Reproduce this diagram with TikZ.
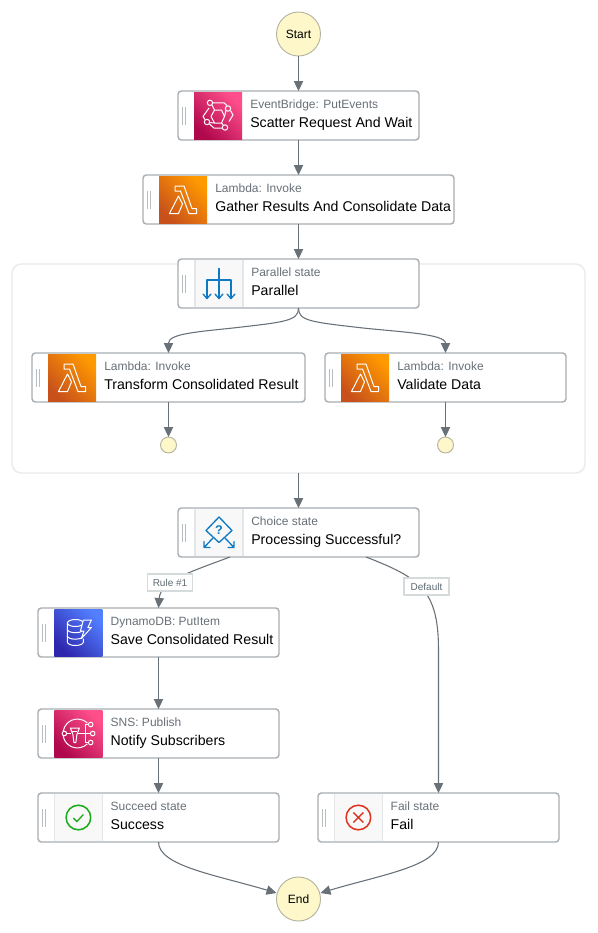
\documentclass[tikz,border=0pt]{standalone}
\usepackage{fontspec}
\setmainfont{Liberation Sans}
\usetikzlibrary{arrows.meta,calc}
\definecolor{edgec}{HTML}{687078}
\definecolor{boxc}{HTML}{A9AEB3}
\definecolor{subc}{HTML}{687078}
\definecolor{circf}{HTML}{FDF7C9}
\definecolor{circd}{HTML}{B4B4A0}
\definecolor{contc}{HTML}{E9ECEC}
\definecolor{gripc}{HTML}{B7BCBF}
\definecolor{iconbg}{HTML}{F8F8F8}
\definecolor{iconbd}{HTML}{E4E7E7}
\definecolor{lblue}{HTML}{0F7AC4}
\definecolor{lgreen}{HTML}{1DAB1D}
\definecolor{lred}{HTML}{DD3522}
\definecolor{labd}{HTML}{D5DBDB}
\definecolor{labt}{HTML}{5F6B73}
\definecolor{lamA}{HTML}{C8511B}\definecolor{lamB}{HTML}{FF9900}
\definecolor{pinkA}{HTML}{B0084D}\definecolor{pinkB}{HTML}{FF4F8B}
\definecolor{dynA}{HTML}{2E27AD}\definecolor{dynB}{HTML}{527FFF}
\tikzset{
  flow/.style={draw=edgec,line width=0.8pt,-{Triangle[length=7.5pt,width=7pt]}},
  stbox/.style={draw=boxc,fill=white,line width=1.1pt,rounded corners=2.5pt,outer sep=0pt,inner sep=0pt,minimum height=36.75pt},
  termc/.style={circle,draw=circd,fill=circf,line width=0.7pt,minimum size=33pt,inner sep=0pt,outer sep=0pt,font=\fontsize{9}{11}\selectfont},
  endc/.style={circle,draw=circd,fill=circf,line width=0.7pt,minimum size=12pt,inner sep=0pt,outer sep=0pt},
  subtxt/.style={anchor=base west,inner sep=0pt,text=subc,font=\fontsize{9}{11}\selectfont},
  maintxt/.style={anchor=base west,inner sep=0pt,text=black,font=\fontsize{10.6}{13}\selectfont},
  edgelab/.style={draw=labd,fill=white,line width=1.1pt,inner sep=0pt,text=labt,font=\fontsize{7.5}{9}\selectfont},
  wl/.style={draw=white,line width=0.75pt,line join=round},
  bl/.style={draw=lblue,line width=1pt,line cap=round,line join=round},
}
% name, x1, x2, ytop, icon-left, sub, main, icon command
\newcommand\stateitem[8]{%
  \pgfmathsetmacro\cxx{(#2+#3)/2}%
  \pgfmathsetmacro\cyy{#4+24.5}%
  \pgfmathsetmacro\wdd{(#3-#2)*0.75}%
  \node[stbox,minimum width=\wdd pt] (#1) at (\cxx,\cyy) {};
  \draw[gripc,line width=0.6pt] (#2+4.5,\cyy-8.5) -- (#2+4.5,\cyy+9) (#2+7.5,\cyy-8.5) -- (#2+7.5,\cyy+9);
  \begin{scope}[shift={(#5+24,\cyy)}]#8\end{scope}
  \node[subtxt] (#1sub) at (#5+56,#4+17) {#6};
  \node[maintxt] (#1main) at (#5+56,#4+36) {#7};
}
\newcommand\bgplain{\fill[iconbg] (-24,-23.5) rectangle (24,23.5);\draw[iconbd,line width=0.9pt] (-24,-23.5) -- (-24,23.5) (24,-23.5) -- (24,23.5);}
\newcommand\iconlambda{%
  \shade[left color=lamA,right color=lamB,shading angle=135] (-24,-23.5) rectangle (24,23.5);
  \draw[wl] (-8,-13.5) -- (1,-13.5) -- (9,9) -- (13.5,9) -- (13.5,14) -- (6,14) -- (-2.5,-8.5) -- (-8,-8.5) -- cycle;
  \draw[wl] (-13.5,14) -- (-4.5,-3.5) -- (-0.5,4.5) -- (-4.5,14) -- cycle;
}
\newcommand\iconeb{%
  \shade[left color=pinkA,right color=pinkB,shading angle=135] (-24,-23.5) rectangle (24,23.5);
  \draw[wl] (-7,1) -- (-3.5,-5.5) -- (3.5,-5.5) -- (6.5,1) -- (3.5,7.5) -- (-3.5,7.5) -- cycle;
  \draw[wl] (-8,-12.7) circle (2.7) (10,-7) circle (2.7) (-11,6.5) circle (2.7) (7,12) circle (2.7);
  \draw[wl] (-6,-10.5) -- (-3.5,-5.5) (8,-5) -- (6.5,1) (-8.5,7) -- (-3.5,7.5) (5.5,10) -- (3.5,7.5);
  \draw[wl] (-5,-12.7) -- (6,-12.7) -- (9,-10);
  \draw[wl] (-9,-7.5) -- (-15,1) -- (-13,4);
  \draw[wl] (-8.5,8.5) -- (-4,12.5) -- (4,12.5);
  \draw[wl] (12.5,-5) -- (15,-0.5) -- (11,6);
}
\newcommand\iconsns{%
  \shade[left color=pinkA,right color=pinkB,shading angle=135] (-24,-23.5) rectangle (24,23.5);
  \draw[wl] ($(-1,0)+(-46:14.4)$) arc[start angle=-46,end angle=-170,radius=14.4];
  \draw[wl] ($(-1,0)+(170:14.4)$) arc[start angle=170,end angle=46,radius=14.4];
  \draw[wl] (-14,0) circle (2.3) (12.3,-9) circle (2.3) (14.3,0) circle (2.3) (12.3,9) circle (2.3);
  \draw[wl] (-11.7,0) -- (-7,0) (-0.5,0) -- (12,0) (7,-9) -- (7,9) (7,-9) -- (10,-9) (7,9) -- (10,9);
  \draw[wl] (-8,-5.5) -- (1,-5.5) -- (-1.5,1) -- (-2.5,9) -- (-4.5,9) -- (-5.5,1) -- cycle;
  \draw[wl] (-6,-2.5) -- (-1,-2.5);
}
\newcommand\icondyn{%
  \shade[left color=dynA,right color=dynB,shading angle=135] (-24,-23.5) rectangle (24,23.5);
  \draw[wl] (-11,-9.5) -- (-11,9.5) arc[start angle=180,end angle=0,x radius=8,y radius=3.5] -- (5,6);
  \draw[wl] (-3,-9.5) ellipse (8 and 3.5);
  \draw[wl] (-11,-3) arc[start angle=180,end angle=30,x radius=8,y radius=3.2];
  \draw[wl] (-11,3.5) arc[start angle=180,end angle=20,x radius=8,y radius=3.2];
  \draw[wl,fill=dynB!65!dynA] (5,-12.5) -- (13,-12.5) -- (9.5,-5) -- (13,-5) -- (3,6) -- (5.5,-1.5) -- (2,-1.5) -- cycle;
}
\newcommand\iconpar{%
  \bgplain
  \draw[bl] (0,-15) -- (0,15) (-12,15) -- (-12,-3.5) -- (12,-3.5) -- (12,15);
  \draw[bl] (-16,10.5) -- (-12,15) -- (-8,10.5) (-4,10.5) -- (0,15) -- (4,10.5) (8,10.5) -- (12,15) -- (16,10.5);
}
\newcommand\iconchoice{%
  \bgplain
  \draw[bl] (0,-15.5) -- (13,-2) -- (0,10) -- (-13,-2) -- cycle;
  \node[inner sep=0pt,text=lblue,font=\bfseries\fontsize{9.5}{10}\selectfont] at (0,-2) {?};
  \draw[bl] (-6,5.5) -- (-15,15) (-15,9) -- (-15,15) -- (-9,15);
  \draw[bl] (6,5.5) -- (15,15) (15,9) -- (15,15) -- (9,15);
}
\newcommand\iconok{%
  \bgplain
  \draw[lgreen,line width=1.15pt] (0,0) circle (12.3);
  \draw[lgreen,line width=1pt] (-5,0.5) -- (-1.5,4) -- (5,-3);
}
\newcommand\iconfail{%
  \bgplain
  \draw[lred,line width=1.15pt] (0,0) circle (12.3);
  \draw[lred,line width=1pt] (-5,-5) -- (5,5) (-5,5) -- (5,-5);
}
\begin{document}
\begin{tikzpicture}[x=0.75pt,y=-0.75pt]
\useasboundingbox (0,0) rectangle (597,933);
\fill[white] (0,0) rectangle (597,933);
% parallel container
\draw[contc,line width=1.1pt,rounded corners=7pt] (12,264) rectangle (585,473);
\coordinate (containerbottom) at (298.5,473);
% terminals
\node[termc] (start) at (298.5,34) {Start};
\node[termc] (end) at (298.5,899) {End};
% states
\stateitem{scatter}{178}{419}{91}{194}{EventBridge: PutEvents}{Scatter Request And Wait}{\iconeb}
\stateitem{gather}{143}{454}{175}{159}{Lambda: Invoke}{Gather Results And Consolidate Data}{\iconlambda}
\stateitem{parallel}{178}{419}{259}{195}{Parallel state}{Parallel}{\iconpar}
\stateitem{transform}{32}{305}{353}{48}{Lambda: Invoke}{Transform Consolidated Result}{\iconlambda}
\stateitem{validate}{325}{566}{353}{341}{Lambda: Invoke}{Validate Data}{\iconlambda}
\stateitem{choice}{178}{419}{508}{195}{Choice state}{Processing Successful?}{\iconchoice}
\stateitem{save}{38}{279}{608}{54.4}{DynamoDB: PutItem}{Save Consolidated Result}{\icondyn}
\stateitem{notify}{38}{279}{709}{54.4}{SNS: Publish}{Notify Subscribers}{\iconsns}
\stateitem{success}{38}{279}{793}{54.4}{Succeed state}{Success}{\iconok}
\stateitem{fail}{318}{559}{793}{334.4}{Fail state}{Fail}{\iconfail}
\node[endc] (pend1) at (168.5,445) {};
\node[endc] (pend2) at (445.5,445) {};
% anchors on the choice box
\coordinate (choiceL) at (230,557);
\coordinate (choiceR) at (366,557);
% straight connectors
\draw[flow] (start) -- (scatter);
\draw[flow] (scatter) -- (gather);
\draw[flow] (gather) -- (parallel);
\draw[flow] (transform) -- (pend1);
\draw[flow] (validate) -- (pend2);
\draw[flow] (containerbottom) -- (choice.north);
\draw[flow] (save) -- (notify);
\draw[flow] (notify) -- (success);
% curved connectors
\draw[flow] (parallel.south) .. controls +(0,13) and +(52,-6) .. (233,328) .. controls +(-38,4) and +(0,-19) .. (transform.north);
\draw[flow] (parallel.south) .. controls +(0,13) and +(-52,-6) .. (363,328) .. controls +(38,4) and +(0,-19) .. (validate.north);
\draw[flow] (choiceL) .. controls +(-40,15) and +(2,-27) .. (save.north);
\draw[flow] (choiceR) .. controls +(54,21) and +(0,-60) .. (438.5,650) -- (fail.north);
\draw[flow] (success.south) .. controls +(0,24) and +(-60,-18) .. (end.west |- 0,893);
\draw[flow] (fail.south) .. controls +(0,24) and +(60,-18) .. (end.east |- 0,893);
% edge labels
\node[edgelab,minimum width=34pt,minimum height=12.5pt] (rule) at (170,582.5) {Rule \#1};
\node[edgelab,minimum width=33.5pt,minimum height=12.5pt] (default) at (426.5,586.5) {Default};
\end{tikzpicture}
\end{document}
